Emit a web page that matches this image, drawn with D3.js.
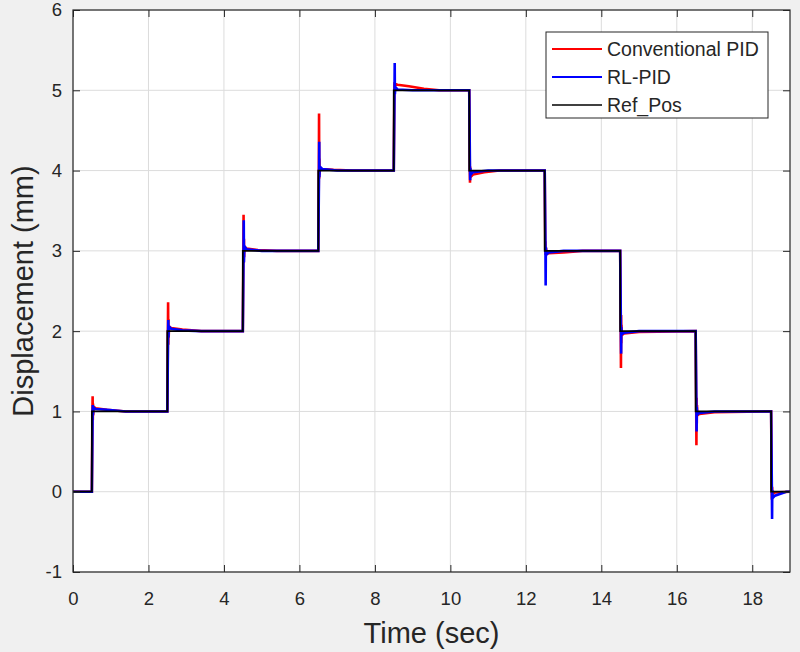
<!DOCTYPE html>
<html>
<head>
<meta charset="utf-8">
<script src="https://cdn.jsdelivr.net/npm/d3@7"></script>
<style>
  body { margin: 0; background: #f0f0f0; }
  svg { display: block; }
  text { font-family: "Liberation Sans", Arial, sans-serif; fill: #262626; }
</style>
</head>
<body>
<svg id="chart" width="800" height="652"></svg>
<script>
// reference position: step time and level
const refTime = [0, 0.5, 2.5, 4.5, 6.5, 8.5, 10.5, 12.5, 14.5, 16.5, 18.5, 19];
const refPos  = [0, 1, 2, 3, 4, 5, 4, 3, 2, 1, 0, 0];

// conventional PID response [t, mm]
const pidResp = [
  [0, 0], [0.5, 0], [0.515, 1.0], [0.52, 1.19], [0.525, 0.89], [0.53, 1.1], [0.535, 0.95], [0.545, 1.06], [0.6, 1.04], [0.9, 1.02], [1.4, 1.0], [2.5, 1.0],
  [2.515, 2.0], [2.52, 2.36], [2.525, 1.83], [2.53, 2.15], [2.535, 1.92], [2.545, 2.06], [2.6, 2.04], [2.9, 2.02], [3.4, 2.0], [4.5, 2.0],
  [4.515, 3.0], [4.52, 3.45], [4.525, 2.85], [4.53, 3.15], [4.535, 2.92], [4.545, 3.05], [4.6, 3.03], [4.9, 3.01], [5.4, 3.0], [6.5, 3.0],
  [6.515, 4.0], [6.52, 4.71], [6.525, 3.9], [6.53, 4.15], [6.535, 3.95], [6.545, 4.04], [6.6, 4.02], [6.9, 4.01], [7.4, 4.0], [8.5, 4.0],
  [8.515, 5.0], [8.52, 5.1], [8.525, 4.97], [8.535, 5.08], [8.6, 5.07], [8.9, 5.05], [9.3, 5.02], [9.7, 5.0], [10.5, 5.0],
  [10.515, 4.0], [10.52, 3.85], [10.525, 4.05], [10.535, 3.92], [10.6, 3.95], [10.9, 3.98], [11.3, 4.0], [12.5, 4.0],
  [12.515, 3.0], [12.52, 3.12], [12.525, 2.95], [12.535, 3.04], [12.55, 2.96], [12.6, 2.97], [13.0, 2.98], [13.5, 3.0], [14.5, 3.0],
  [14.515, 2.0], [14.52, 1.54], [14.525, 2.2], [14.53, 1.85], [14.535, 2.08], [14.545, 1.95], [14.6, 1.97], [15.0, 1.99], [16.5, 2.0],
  [16.515, 1.0], [16.52, 0.58], [16.525, 1.17], [16.53, 0.85], [16.535, 1.08], [16.545, 0.95], [16.6, 0.97], [17.0, 0.99], [18.5, 1.0],
  [18.515, 0.0], [18.52, -0.1], [18.525, 0.06], [18.535, -0.03], [18.6, -0.01], [19, 0]
];

// RL-PID response [t, mm]
const rlResp = [
  [0, 0], [0.5, 0], [0.52, 1.0], [0.525, 1.08], [0.53, 0.96], [0.54, 1.05], [0.6, 1.03], [0.9, 1.02], [1.4, 1.0], [2.5, 1.0],
  [2.52, 2.0], [2.525, 2.14], [2.53, 1.92], [2.54, 2.06], [2.6, 2.03], [2.9, 2.01], [3.4, 2.0], [4.5, 2.0],
  [4.52, 3.0], [4.525, 3.38], [4.53, 2.86], [4.54, 3.06], [4.6, 3.02], [5.0, 3.0], [6.5, 3.0],
  [6.52, 4.0], [6.525, 4.36], [6.53, 3.92], [6.54, 4.05], [6.6, 4.02], [7.0, 4.0], [8.5, 4.0],
  [8.52, 5.0], [8.525, 5.34], [8.53, 4.95], [8.54, 5.04], [8.6, 5.01], [9.0, 5.0], [10.5, 5.0],
  [10.52, 4.0], [10.525, 3.88], [10.53, 4.03], [10.54, 3.95], [10.6, 3.98], [11.0, 4.0], [12.5, 4.0],
  [12.52, 3.0], [12.525, 2.57], [12.53, 3.04], [12.54, 2.95], [12.6, 2.98], [13.0, 3.0], [14.5, 3.0],
  [14.52, 2.0], [14.525, 1.72], [14.53, 2.05], [14.54, 1.96], [14.6, 1.98], [15.0, 2.0], [16.5, 2.0],
  [16.52, 1.0], [16.525, 0.75], [16.53, 1.05], [16.54, 0.96], [16.6, 0.98], [17.0, 1.0], [18.5, 1.0],
  [18.52, 0.0], [18.525, -0.34], [18.53, 0.02], [18.54, -0.08], [18.6, -0.05], [18.9, 0.0], [19, 0]
];

const xTicks = [0, 2, 4, 6, 8, 10, 12, 14, 16, 18];
const yTicks = [-1, 0, 1, 2, 3, 4, 5, 6];
const legendNames = ["Conventional PID", "RL-PID", "Ref_Pos"];
const legendColors = ["#ff0000", "#0000ff", "#000000"];

const svg = d3.select("#chart");
const pLeft = 73, pRight = 790, pTop = 10, pBottom = 572;

const x = d3.scaleLinear().domain([0, 19]).range([pLeft, pRight]);
const y = d3.scaleLinear().domain([-1, 6]).range([pBottom, pTop]);

// plot background
svg.append("rect")
  .attr("x", pLeft).attr("y", pTop)
  .attr("width", pRight - pLeft).attr("height", pBottom - pTop)
  .attr("fill", "#fff");

// grid
const grid = svg.append("g").attr("stroke", "#dcdcdc").attr("stroke-width", 1);
grid.selectAll(".gx").data(xTicks).enter().append("line")
  .attr("x1", d => x(d)).attr("x2", d => x(d))
  .attr("y1", pTop).attr("y2", pBottom);
grid.selectAll(".gy").data(yTicks).enter().append("line")
  .attr("x1", pLeft).attr("x2", pRight)
  .attr("y1", d => y(d)).attr("y2", d => y(d));

svg.append("clipPath").attr("id", "clip")
  .append("rect")
  .attr("x", pLeft).attr("y", pTop)
  .attr("width", pRight - pLeft).attr("height", pBottom - pTop);

const plot = svg.append("g").attr("clip-path", "url(#clip)");

const line = d3.line().x(d => x(d[0])).y(d => y(d[1]));

plot.append("path").datum(pidResp)
  .attr("d", line)
  .attr("fill", "none").attr("stroke", "#ff0000").attr("stroke-width", 2.6);

plot.append("path").datum(rlResp)
  .attr("d", line)
  .attr("fill", "none").attr("stroke", "#0000ff").attr("stroke-width", 2.6);

const refData = refTime.map((t, i) => [t, refPos[i]]);
plot.append("path").datum(refData)
  .attr("d", d3.line().x(d => x(d[0])).y(d => y(d[1])).curve(d3.curveStepAfter))
  .attr("fill", "none").attr("stroke", "#000").attr("stroke-width", 1.8);

// axes, ticks inside; plain hyphen for the minus sign
const fmt = d => String(d);
const xAxis = svg.append("g")
  .attr("transform", `translate(0,${pBottom})`)
  .call(d3.axisBottom(x).tickValues(xTicks).tickFormat(fmt).tickSizeInner(-7).tickSizeOuter(0).tickPadding(20));
const yAxis = svg.append("g")
  .attr("transform", `translate(${pLeft},0)`)
  .call(d3.axisLeft(y).tickValues(yTicks).tickFormat(fmt).tickSizeInner(-7).tickSizeOuter(0).tickPadding(11));
const xTop = svg.append("g")
  .attr("transform", `translate(0,${pTop})`)
  .call(d3.axisTop(x).tickValues(xTicks).tickSizeInner(-7).tickSizeOuter(0).tickFormat(""));
const yRight = svg.append("g")
  .attr("transform", `translate(${pRight},0)`)
  .call(d3.axisRight(y).tickValues(yTicks).tickSizeInner(-7).tickSizeOuter(0).tickFormat(""));

[xAxis, yAxis, xTop, yRight].forEach(a => {
  a.select(".domain").remove();
  a.selectAll(".tick line").attr("stroke", "#262626");
  a.selectAll("text")
    .style("font-family", '"Liberation Sans", Arial, sans-serif')
    .style("font-size", "18.5px")
    .attr("fill", "#262626");
});

svg.append("rect")
  .attr("x", pLeft).attr("y", pTop)
  .attr("width", pRight - pLeft).attr("height", pBottom - pTop)
  .attr("fill", "none").attr("stroke", "#262626").attr("stroke-width", 1.2);

// axis titles
svg.append("text")
  .attr("x", (pLeft + pRight) / 2).attr("y", 643)
  .attr("text-anchor", "middle")
  .style("font-size", "29px")
  .text("Time (sec)");

svg.append("text")
  .attr("transform", `translate(33,${(pTop + pBottom) / 2}) rotate(-90)`)
  .attr("text-anchor", "middle")
  .style("font-size", "29px")
  .text("Displacement (mm)");

// legend
const lg = svg.append("g");
lg.append("rect")
  .attr("x", 546).attr("y", 32)
  .attr("width", 222).attr("height", 86)
  .attr("fill", "#fff").attr("stroke", "#262626").attr("stroke-width", 1);

const rows = lg.selectAll(".row").data(legendNames).enter().append("g")
  .attr("transform", (d, i) => `translate(0,${49 + i * 28})`);
rows.append("line")
  .attr("x1", 552).attr("x2", 602)
  .attr("stroke", (d, i) => legendColors[i])
  .attr("stroke-width", (d, i) => i < 2 ? 2 : 1.6);
rows.append("text")
  .attr("x", 607).attr("dy", "0.35em")
  .style("font-size", "19.5px")
  .text(d => d);
</script>
</body>
</html>
